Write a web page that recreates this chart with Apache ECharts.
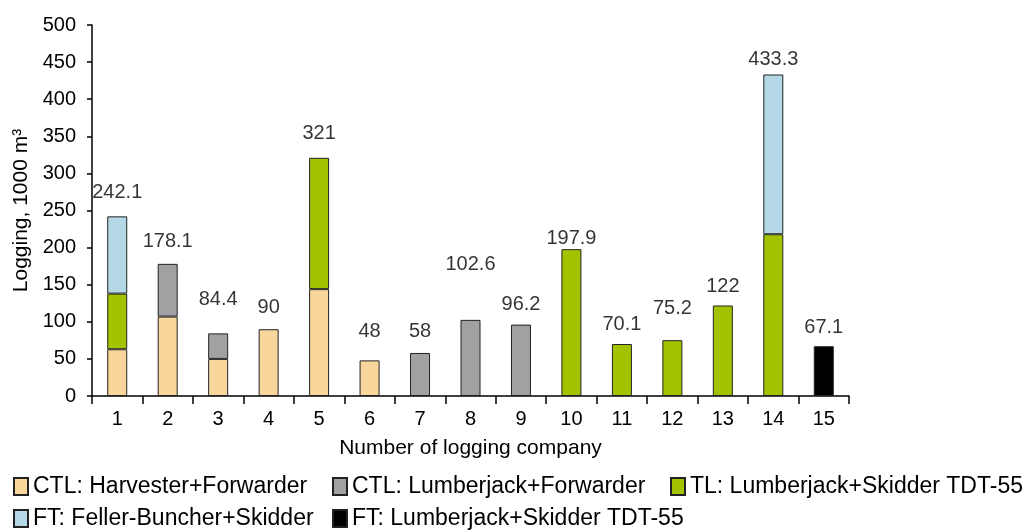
<!DOCTYPE html>
<html>
<head>
<meta charset="utf-8">
<script src="https://cdn.jsdelivr.net/npm/echarts@6/dist/echarts.min.js"></script>
<style>html,body{margin:0;padding:0;background:#fff}#c{width:1023px;height:532px}</style>
</head>
<body>
<div id="c"></div>
<script>
// ---- data ----
const categories = ['1','2','3','4','5','6','7','8','9','10','11','12','13','14','15'];
const seriesNames = ['CTL: Harvester+Forwarder','CTL: Lumberjack+Forwarder','TL: Lumberjack+Skidder TDT-55','FT: Feller-Buncher+Skidder','FT: Lumberjack+Skidder TDT-55'];
const harvesterForwarder   = [63, 107, 50, 90, 144, 48, null, null, null, null, null, null, null, null, null];
const lumberjackForwarder  = [null, 71.1, 34.4, null, null, null, 58, 102.6, 96.2, null, null, null, null, null, null];
const lumberjackSkidderTL  = [75, null, null, null, 177, null, null, null, null, 197.9, 70.1, 75.2, 122, 218, null];
const fellerBuncherSkidder = [104.1, null, null, null, null, null, null, null, null, null, null, null, null, 215.3, null];
const lumberjackSkidderFT  = [null, null, null, null, null, null, null, null, null, null, null, null, null, null, 67.1];
const totals = [242.1, 178.1, 84.4, 90, 321, 48, 58, 102.6, 96.2, 197.9, 70.1, 75.2, 122, 433.3, 67.1];
const yTicks = [0, 50, 100, 150, 200, 250, 300, 350, 400, 450, 500];

// ---- style (label lift above bar top, px) ----
const labelLift = [24, 22, 34, 22, 24, 29, 21, 55, 20, 11, 20, 32, 19, 15, 19];
const colors = ['#F9D69C', '#A1A1A4', '#A3C300', '#B5D8E7', '#000000'];
const FONT = 'Liberation Sans, Arial, Helvetica, sans-serif';

const seriesData = [harvesterForwarder, lumberjackForwarder, lumberjackSkidderTL, fellerBuncherSkidder, lumberjackSkidderFT];

const series = seriesData.map((d, i) => ({
  name: seriesNames[i],
  type: 'bar',
  stack: 'total',
  barWidth: 20,
  data: d.map(v => v == null ? '-' : v),
  itemStyle: { color: colors[i], borderColor: '#222', borderWidth: 1 }
}));
series.push({
  name: 'totals',
  type: 'scatter',
  symbolSize: 0,
  silent: true,
  data: totals.map((v, i) => ({
    value: v,
    label: { show: true, position: 'inside', offset: [0, -labelLift[i]], formatter: String(v) }
  })),
  label: { show: true, color: '#000', fontSize: 20, fontFamily: FONT },
  z: 10
});

const legendPos = [
  { left: 13, top: 475 },
  { left: 332, top: 475 },
  { left: 670, top: 475 },
  { left: 13, top: 507 },
  { left: 332, top: 507 }
];
const legends = seriesNames.map((n, i) => ({
  data: [n],
  left: legendPos[i].left,
  top: legendPos[i].top,
  icon: 'rect',
  itemWidth: 14,
  itemHeight: 17,
  padding: 0,
  textStyle: { fontSize: 23, color: '#000', fontFamily: FONT, padding: [0, 0, 0, 0] }
}));

const chart = echarts.init(document.getElementById('c'), null, { renderer: 'canvas' });
chart.setOption({
  animation: false,
  backgroundColor: '#fff',
  textStyle: { fontFamily: FONT },
  grid: { left: 92, right: 174, top: 25, bottom: 136, containLabel: false },
  legend: legends,
  xAxis: {
    type: 'category',
    data: categories,
    name: 'Number of logging company',
    nameLocation: 'middle',
    nameGap: 42,
    nameTextStyle: { fontSize: 21, color: '#000', fontFamily: FONT },
    axisLine: { lineStyle: { color: '#000', width: 1.5 } },
    axisTick: { show: true, length: 8, alignWithLabel: false, lineStyle: { color: '#000', width: 1.5 } },
    axisLabel: { fontSize: 20, color: '#000', margin: 13, fontFamily: FONT }
  },
  yAxis: {
    type: 'value',
    min: yTicks[0],
    max: yTicks[yTicks.length - 1],
    interval: yTicks[1] - yTicks[0],
    name: 'Logging, 1000 m³',
    nameLocation: 'middle',
    nameGap: 54,
    nameRotate: 90,
    nameTextStyle: { fontSize: 21, color: '#000', fontFamily: FONT },
    axisLine: { show: true, lineStyle: { color: '#000', width: 1.5 } },
    axisTick: { show: true, length: 5, lineStyle: { color: '#000', width: 1.5 } },
    axisLabel: { fontSize: 20, color: '#000', margin: 16, fontFamily: FONT },
    splitLine: { show: false }
  },
  series: series
});
</script>
</body>
</html>
